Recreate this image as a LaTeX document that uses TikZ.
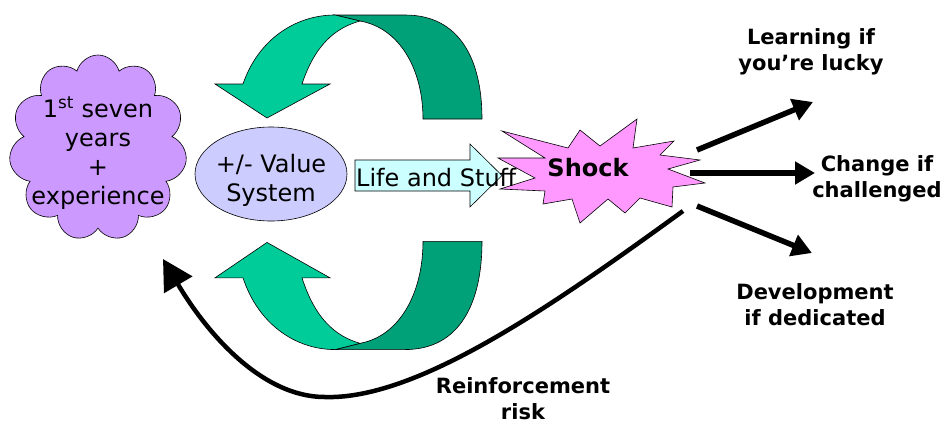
\documentclass[tikz,border=0pt]{standalone}
\usepackage{fontspec}
\setmainfont{DejaVu Sans}
\usetikzlibrary{shapes.symbols,shapes.geometric,arrows.meta}

\definecolor{cloudpurple}{RGB}{204,153,255}
\definecolor{valueblue}{RGB}{204,204,255}
\definecolor{lifecyan}{RGB}{204,255,255}
\definecolor{shockpink}{RGB}{255,153,255}
\definecolor{loopgreen}{RGB}{0,204,153}
\definecolor{loopdark}{RGB}{0,160,120}

\tikzset{
  outline/.style={draw=black, line width=0.6pt},
  bodytext/.style={font=\fontsize{24}{29}\selectfont, align=center, inner sep=0pt},
  outcome/.style={font=\fontsize{21}{26}\selectfont\bfseries, align=center, inner sep=0pt},
  bigarrow/.style={line width=5.5pt, -{Triangle[length=20pt,width=22pt]}},
  turnarrow/.pic={
    \draw[outline, fill=loopdark] (335,-164) -- (405,-164) .. controls (460,-164) and (482,-119) .. (482,-60) -- (423,-60) .. controls (423,-109) and (400,-151) .. (360,-158) -- cycle;
    \draw[outline, fill=loopgreen] (215,-95) -- (267,-61) -- (330,-95) -- (302,-95) .. controls (315,-134) and (335,-151) .. (360,-158) -- (335,-164) .. controls (295,-164) and (258,-139) .. (243,-95) -- cycle;
  }
}

\begin{document}
\begin{tikzpicture}[x=1pt, y=-1pt]
\useasboundingbox (0,0) rectangle (945,421);

% the two loops round the value system
\pic at (0,179) {turnarrow};
\pic[yscale=-1.04] at (0,179) {turnarrow};

\node[cloud, cloud puffs=11, cloud ignores aspect, minimum width=178pt, minimum height=186pt, inner sep=0pt, outline, fill=cloudpurple, label={[bodytext, yshift=-5pt]center:{1\textsuperscript{st} seven\\years\\+\\experience}}] (years) at (98,148) {};
\node[ellipse, minimum width=152pt, minimum height=94pt, inner sep=0pt, outline, fill=valueblue, label={[bodytext, yshift=-6pt]center:{+/- Value\\System}}] (value) at (271,174) {};

\draw[outline, fill=lifecyan] (355,160) -- (470,160) -- (470,144) -- (502,175.5) -- (470,207) -- (470,191) -- (355,191) -- cycle;

% shock star
\draw[outline, fill=shockpink] (502,131) -- (568,148) -- (580,130) -- (600,146) -- (637,119) -- (633,148) -- (674,141) -- (660,155) -- (700,160) -- (668,169) -- (705,183) -- (673,187) -- (672,207) -- (640,198) -- (625,213) -- (608,199) -- (580,223) -- (572,199) -- (543,204) -- (545,191) -- (500,189) -- (535,178) -- (498,158) -- (545,158) -- cycle;

\node[bodytext, anchor=west] (life) at (356,178) {Life and Stuff};
\node[font=\fontsize{24}{29}\selectfont\bfseries, inner sep=0pt] (shock) at (588,168) {Shock};

\node[outcome] (learn) at (811,52) {Learning if\\you’re lucky};
\node[outcome] (change) at (877,179) {Change if\\challenged};
\node[outcome] (develop) at (815,305) {Development\\if dedicated};
\node[outcome] (reinforce) at (523,399) {Reinforcement\\risk};

\coordinate (learn start) at (697,150);
\coordinate (learn end) at (813,102);
\coordinate (change start) at (690,173);
\coordinate (change end) at (815,173);
\coordinate (develop start) at (697,206);
\coordinate (develop end) at (812,253);
\coordinate (risk start) at (683,211);
\coordinate (risk end) at (163,259);

\draw[bigarrow] (learn start) -- (learn end);
\draw[bigarrow] (change start) -- (change end);
\draw[bigarrow] (develop start) -- (develop end);
\draw[line width=4.5pt, -{Triangle[length=30pt,width=32pt]}] (risk start) .. controls (560,300) and (420,400) .. (325,397) .. controls (260,397) and (205,330) .. (risk end);
\end{tikzpicture}
\end{document}
